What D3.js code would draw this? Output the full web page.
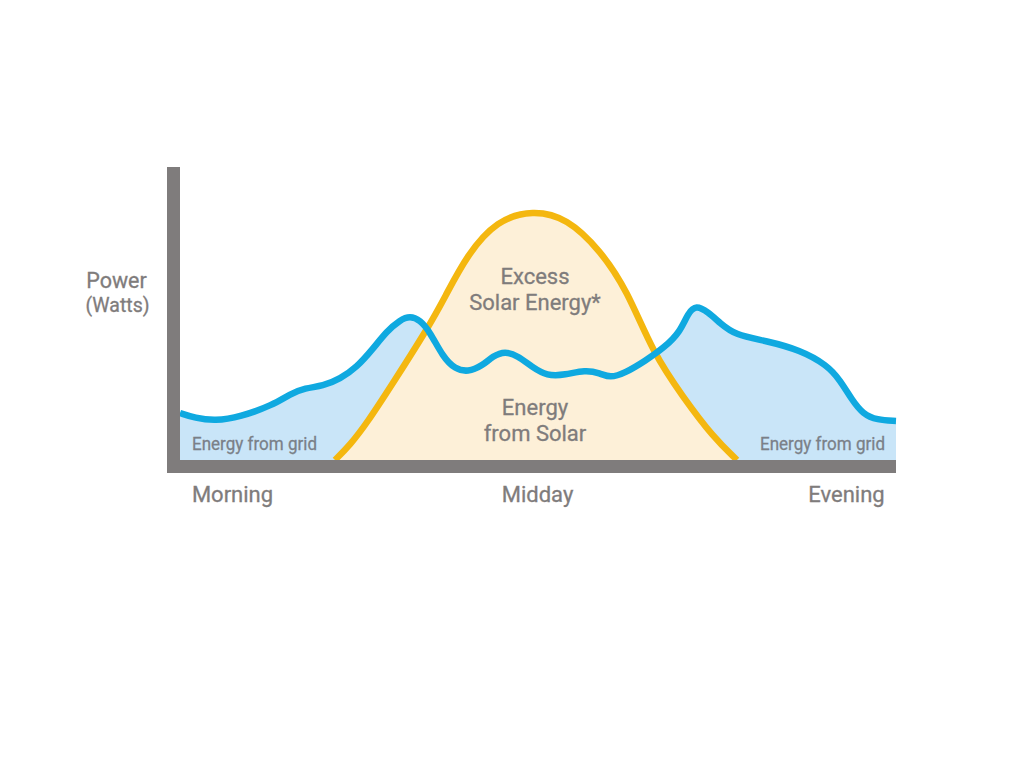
<!DOCTYPE html>
<html><head><meta charset="utf-8">
<script src="https://cdn.jsdelivr.net/npm/d3@7"></script>
<style>html,body{margin:0;padding:0;background:#fff}svg{display:block}text{font-family:Roboto,sans-serif}</style>
</head><body><svg id="c" width="1024" height="768"></svg>
<script>
const gridMinutes=[0,15,35,60,93,110,125,143,160,177,192,207,220,230,240,250,263,275,288,302,313,325,338,352,367,385,405,420,430,445,465,485,500,508,516,528,540,555,587,620,647,660,672,683,697,716];
const gridWatts=[47,42,39,43,55,66,72,74,81,93,110,129,140,144,140,128,103,91,88,94,104,109,104,93,84,85,90,87,82,87,99,113,128,147,155,148,137,125,119,110,95,80,60,46,40,39];
const solarMinutes=[155,170,187,213,248,265,287,317,353,387,420,447,473,503,533,557];
const solarWatts=[0,15,37,77,132,163,205,240,250,242,210,170,107,63,23,0];
const tickLabels=["Morning","Midday","Evening"];
const tickMinutes=[52,357,666];

const grid=gridMinutes.map((x,i)=>({x,y:gridWatts[i]}));
const solar=solarMinutes.map((x,i)=>({x,y:solarWatts[i]}));

const x=d3.scaleLinear().domain([0,716]).range([180,896]);
const y=d3.scaleLinear().domain([0,293]).range([460,167]);
const svg=d3.select("#c");
const axisColor="#7f7c7c";
const curve=d3.curveBasis;

svg.append("path").datum(grid).attr("fill","#c9e5f8")
  .attr("d",d3.area().x(d=>x(d.x)).y0(y(0)).y1(d=>y(d.y)).curve(curve));
svg.append("path").datum(solar).attr("fill","#fdf0d8")
  .attr("d",d3.area().x(d=>x(d.x)).y0(y(0)).y1(d=>y(d.y)).curve(curve));
svg.append("path").datum(solar).attr("fill","none").attr("stroke","#f4b70f").attr("stroke-width",6.5)
  .attr("d",d3.line().x(d=>x(d.x)).y(d=>y(d.y)).curve(curve));
svg.append("path").datum(grid).attr("fill","none").attr("stroke","#0fa9e0").attr("stroke-width",6.5)
  .attr("d",d3.line().x(d=>x(d.x)).y(d=>y(d.y)).curve(curve));

// axes
svg.append("rect").attr("x",167).attr("y",y(293)).attr("width",13).attr("height",306).attr("fill",axisColor);
svg.append("rect").attr("x",167).attr("y",y(0)).attr("width",x(716)-167).attr("height",13).attr("fill",axisColor);
const ax=svg.append("g").attr("transform",`translate(0,${y(0)+13})`)
  .call(d3.axisBottom(x).tickValues(tickMinutes).tickSize(0).tickFormat((d,i)=>tickLabels[i]));
ax.select(".domain").remove();
ax.selectAll("text").attr("y",13).attr("dy","0.71em").attr("fill",axisColor).attr("stroke",axisColor).attr("stroke-width",0.3)
  .style("font-family","Roboto,sans-serif").style("font-size","22px").style("font-weight",400);

function label(t,px,py,size,anchor,fill,len){
  const e=svg.append("text").attr("x",px).attr("y",py).attr("text-anchor",anchor).attr("fill",fill)
    .attr("stroke",fill).attr("stroke-width",0.3).attr("font-size",size).attr("font-weight",400).text(t);
  if(len)e.attr("textLength",len).attr("lengthAdjust","spacingAndGlyphs");
}
label("Power",116.5,288,21.5,"middle",axisColor);
label("(Watts)",117.5,312,19.5,"middle",axisColor);
label("Excess",535,284,22,"middle",axisColor);
label("Solar Energy*",535,310,22,"middle",axisColor);
label("Energy",535,415,22,"middle",axisColor);
label("from Solar",535,441,22,"middle",axisColor);
label("Energy from grid",192,449.5,19,"start","#7a8088",125);
label("Energy from grid",760,449.5,19,"start","#7a8088",125);
</script></body></html>
